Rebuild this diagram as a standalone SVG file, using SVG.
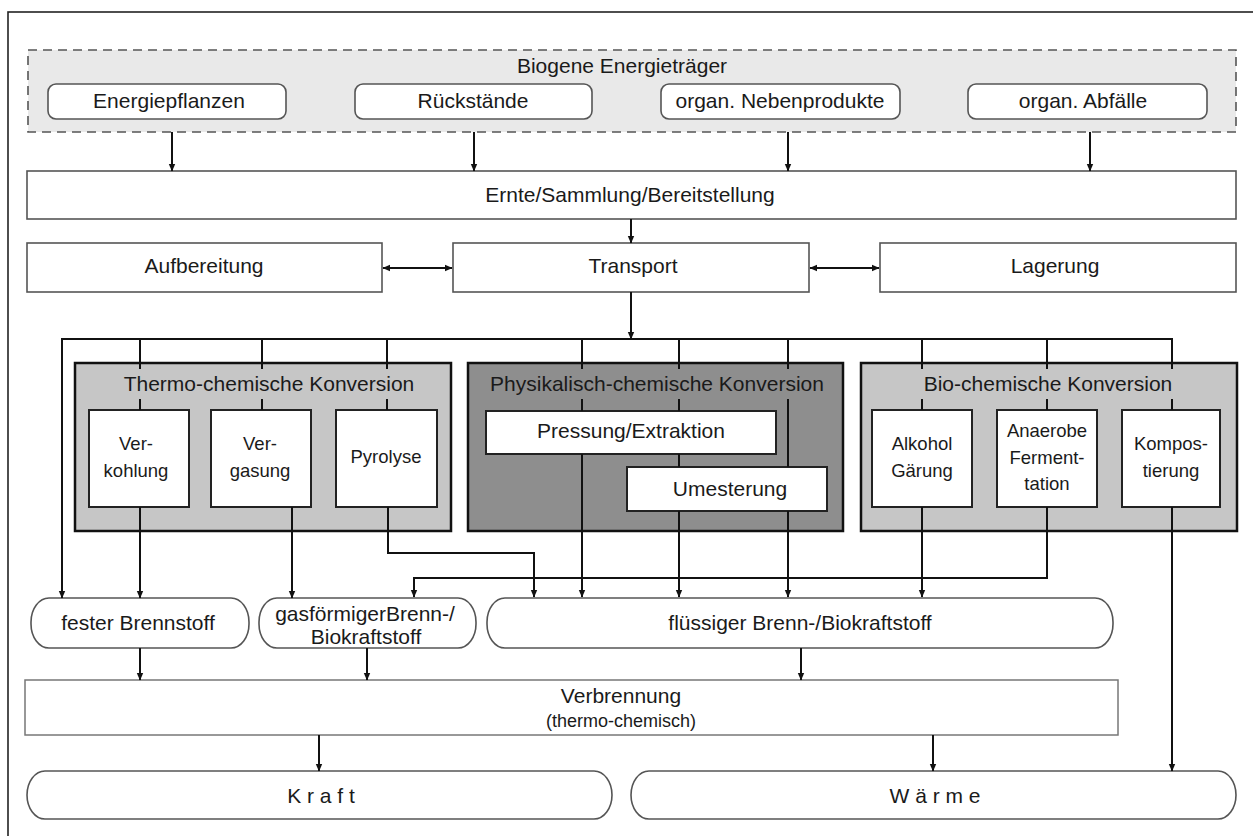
<svg xmlns="http://www.w3.org/2000/svg" width="1253" height="836" viewBox="0 0 1253 836">
<defs>
<marker id="ah" markerWidth="8" markerHeight="8" refX="7" refY="4" orient="auto-start-reverse" markerUnits="userSpaceOnUse"><path d="M0,0.8 L7.5,4 L0,7.2 Z" fill="#111"/></marker>
</defs>
<style>
.t{font-family:"Liberation Sans",Arial,sans-serif;fill:#1a1a1a;text-anchor:middle}
.f21{font-size:21px}
.f18{font-size:18.5px}
.box{fill:#fff;stroke:#555;stroke-width:1.6}
.ibox{fill:#fff;stroke:#222;stroke-width:2}
.c{fill:none;stroke:#111;stroke-width:2}
.a{fill:none;stroke:#111;stroke-width:2;marker-end:url(#ah)}
</style>
<rect x="8" y="12" width="1270" height="840" fill="#fff" stroke="#222" stroke-width="1.6"/>

<g id="biogene">
<rect x="28" y="50" width="1208" height="82" fill="#e9e9e9" stroke="#555" stroke-width="1.6" stroke-dasharray="9,6"/>
<text class="t f21" x="622" y="73">Biogene Energieträger</text>
</g>
<g id="energiepflanzen"><rect class="box" x="48" y="84" width="238" height="35" rx="8"/><text class="t f21" x="169" y="108">Energiepflanzen</text></g>
<g id="rueckstaende"><rect class="box" x="355" y="84" width="237" height="35" rx="8"/><text class="t f21" x="473" y="108">Rückstände</text></g>
<g id="nebenprodukte"><rect class="box" x="661" y="84" width="239" height="35" rx="8"/><text class="t f21" x="780" y="108">organ. Nebenprodukte</text></g>
<g id="abfaelle"><rect class="box" x="968" y="84" width="239" height="35" rx="8"/><text class="t f21" x="1083" y="108">organ. Abfälle</text></g>

<g id="ernte"><rect class="box" x="27" y="171" width="1209" height="48"/><text class="t f21" x="630" y="202">Ernte/Sammlung/Bereitstellung</text></g>
<g id="aufbereitung"><rect class="box" x="27" y="243" width="355" height="49"/><text class="t f21" x="204" y="273">Aufbereitung</text></g>
<g id="transport"><rect class="box" x="453" y="243" width="356" height="49"/><text class="t f21" x="633" y="273">Transport</text></g>
<g id="lagerung"><rect class="box" x="880" y="243" width="356" height="49"/><text class="t f21" x="1055" y="273">Lagerung</text></g>

<g id="thermo">
<rect x="75" y="363" width="376" height="168" fill="#c6c6c6" stroke="#111" stroke-width="2.5"/>
<text class="t f21" x="269" y="391">Thermo-chemische Konversion</text>
</g>
<g id="verkohlung"><rect class="ibox" x="89" y="410" width="100" height="97"/><text class="t f18" x="136" y="450">Ver-</text><text class="t f18" x="136" y="477">kohlung</text></g>
<g id="vergasung"><rect class="ibox" x="211" y="410" width="100" height="97"/><text class="t f18" x="260" y="450">Ver-</text><text class="t f18" x="260" y="477">gasung</text></g>
<g id="pyrolyse"><rect class="ibox" x="336" y="410" width="101" height="97"/><text class="t f18" x="386" y="463">Pyrolyse</text></g>

<g id="physikalisch">
<rect x="468" y="363" width="375" height="168" fill="#8e8e8e" stroke="#111" stroke-width="2.5"/>
<text class="t f21" x="657" y="391">Physikalisch-chemische Konversion</text>
</g>
<g id="pressung"><rect class="ibox" x="486" y="411" width="290" height="43"/><text class="t f21" x="631" y="438">Pressung/Extraktion</text></g>
<g id="umesterung"><rect class="ibox" x="627" y="467" width="200" height="44"/><text class="t f21" x="730" y="496">Umesterung</text></g>

<g id="biochemisch">
<rect x="861" y="363" width="376" height="168" fill="#c6c6c6" stroke="#111" stroke-width="2.5"/>
<text class="t f21" x="1048" y="391">Bio-chemische Konversion</text>
</g>
<g id="alkohol"><rect class="ibox" x="872" y="410" width="100" height="97"/><text class="t f18" x="922" y="450">Alkohol</text><text class="t f18" x="922" y="477">Gärung</text></g>
<g id="anaerobe"><rect class="ibox" x="997" y="410" width="100" height="97"/><text class="t f18" x="1047" y="437">Anaerobe</text><text class="t f18" x="1047" y="464">Ferment-</text><text class="t f18" x="1047" y="490">tation</text></g>
<g id="kompostierung"><rect class="ibox" x="1122" y="410" width="98" height="97"/><text class="t f18" x="1171" y="450">Kompos-</text><text class="t f18" x="1171" y="477">tierung</text></g>

<g id="fest"><rect class="box" x="31" y="598" width="218" height="50" rx="18" ry="24"/><text class="t f21" x="138" y="630">fester Brennstoff</text></g>
<g id="gasf"><rect class="box" x="259" y="598" width="217" height="50" rx="18" ry="24"/><text class="t f21" x="365" y="621">gasförmigerBrenn-/</text><text class="t f21" x="366" y="644">Biokraftstoff</text></g>
<g id="fluessig"><rect class="box" x="487" y="598" width="626" height="50" rx="18" ry="24"/><text class="t f21" x="800" y="630">flüssiger Brenn-/Biokraftstoff</text></g>

<g id="verbrennung"><rect x="25" y="680" width="1093" height="55" fill="#fff" stroke="#777" stroke-width="1.5"/><text class="t f21" x="621" y="703">Verbrennung</text><text class="t" style="font-size:18px" x="621" y="727">(thermo-chemisch)</text></g>

<g id="kraft"><rect class="box" x="27" y="771" width="585" height="48" rx="18" ry="24"/><text class="t f21" x="321" y="803">K r a f t</text></g>
<g id="waerme"><rect class="box" x="631" y="771" width="605" height="48" rx="18" ry="24"/><text class="t f21" x="935" y="803">W ä r m e</text></g>

<g id="connectors">
<line class="a" x1="172" y1="132" x2="172" y2="171"/>
<line class="a" x1="474" y1="132" x2="474" y2="171"/>
<line class="a" x1="788" y1="132" x2="788" y2="171"/>
<line class="a" x1="1090" y1="132" x2="1090" y2="171"/>
<line class="a" x1="631" y1="219" x2="631" y2="243"/>
<line class="a" x1="383" y1="268" x2="452" y2="268" style="marker-start:url(#ah)"/>
<line class="a" x1="810" y1="268" x2="879" y2="268" style="marker-start:url(#ah)"/>
<line class="a" x1="631" y1="292" x2="631" y2="339"/>
<line class="c" x1="61" y1="339" x2="1173" y2="339"/>
<line class="a" x1="62" y1="339" x2="62" y2="598"/>
<path class="c" d="M140,339V369M140,399V410M262,339V369M262,399V410M387,339V369M387,399V410M582,339V369M582,399V411M679,339V369M679,399V411M788,339V369M788,399V467M922,339V369M922,399V410M1047,339V369M1047,399V410M1172,339V369M1172,399V410"/>
<line class="a" x1="140" y1="507" x2="140" y2="598"/>
<line class="a" x1="292" y1="507" x2="292" y2="598"/>
<path class="a" d="M388,507V553H534V597"/>
<line class="a" x1="582" y1="454" x2="582" y2="597"/>
<line class="c" x1="679" y1="454" x2="679" y2="467"/>
<line class="a" x1="679" y1="511" x2="679" y2="597"/>
<line class="a" x1="788" y1="511" x2="788" y2="597"/>
<line class="a" x1="922" y1="507" x2="922" y2="597"/>
<path class="a" d="M1047,507V578H414V597"/>
<line class="a" x1="1172" y1="507" x2="1172" y2="771"/>
<line class="a" x1="140" y1="648" x2="140" y2="680"/>
<line class="a" x1="367" y1="648" x2="367" y2="680"/>
<line class="a" x1="801" y1="648" x2="801" y2="680"/>
<line class="a" x1="319" y1="735" x2="319" y2="771"/>
<line class="a" x1="933" y1="735" x2="933" y2="771"/>
</g>
</svg>
